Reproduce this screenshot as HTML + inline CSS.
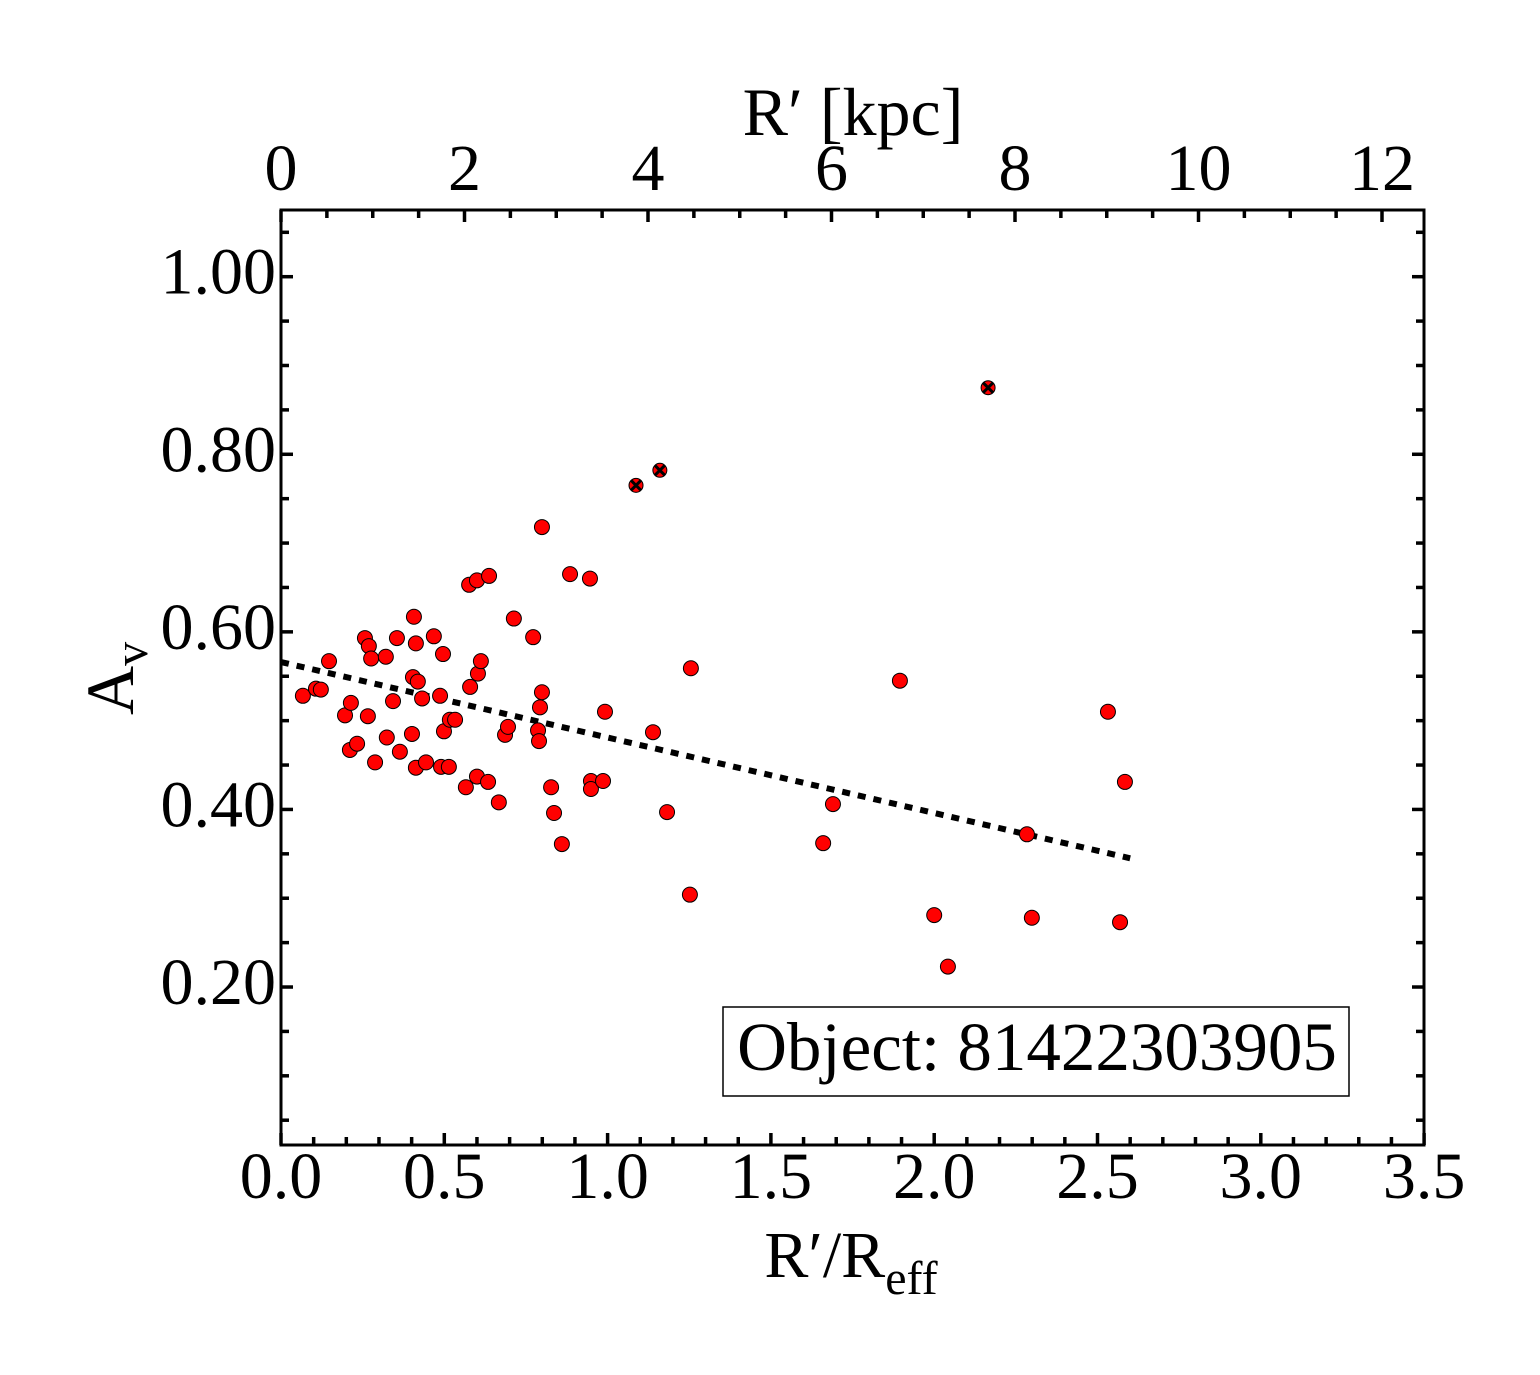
<!DOCTYPE html>
<html><head><meta charset="utf-8"><style>
html,body{margin:0;padding:0;background:#fff;}
svg{display:block;font-family:"Liberation Serif",serif;}
</style></head><body>
<svg id="chart" width="1540" height="1375" viewBox="0 0 1540 1375" xmlns="http://www.w3.org/2000/svg">
<g id="axes"></g>
<g id="fitline"></g>
<g id="points"></g>
<g id="flagged"></g>
<rect x="723" y="1007" width="626" height="89" fill="#fff" stroke="#000" stroke-width="1.5"/>
<text x="1037" y="1070" font-size="69" text-anchor="middle">Object: 81422303905</text>
<text x="853" y="135" font-size="68" text-anchor="middle">R′ [kpc]</text>
<text x="851" y="1277" font-size="66" text-anchor="middle">R′/R<tspan font-size="48" dy="17">eff</tspan></text>
<text transform="translate(133,715) rotate(-90)" font-size="68">A<tspan font-size="48" dy="14">v</tspan></text>
</svg>
<script>
const xVals=[0.067,0.107,0.122,0.147,0.196,0.214,0.211,0.233,0.257,0.269,0.276,0.266,0.288,0.321,0.343,0.324,0.355,0.364,0.407,0.413,0.404,0.419,0.401,0.413,0.432,0.444,0.468,0.496,0.487,0.499,0.490,0.514,0.517,0.533,0.576,0.600,0.637,0.579,0.603,0.612,0.566,0.600,0.634,0.667,0.686,0.695,0.713,0.772,0.787,0.790,0.793,0.799,0.799,0.827,0.836,0.860,0.885,0.946,0.949,0.949,0.986,0.992,1.139,1.182,1.255,1.252,1.660,1.690,1.895,2.000,2.042,2.284,2.299,2.532,2.584,2.569];
const yVals=[0.528,0.536,0.535,0.567,0.506,0.520,0.467,0.474,0.593,0.584,0.570,0.505,0.453,0.572,0.522,0.481,0.593,0.465,0.617,0.587,0.549,0.544,0.485,0.447,0.525,0.453,0.595,0.575,0.528,0.488,0.448,0.448,0.501,0.501,0.653,0.658,0.663,0.538,0.553,0.567,0.425,0.437,0.431,0.408,0.484,0.493,0.615,0.594,0.489,0.477,0.515,0.532,0.718,0.425,0.396,0.361,0.665,0.660,0.432,0.423,0.432,0.510,0.487,0.397,0.559,0.304,0.362,0.406,0.545,0.281,0.223,0.372,0.278,0.510,0.431,0.273];
const flagX=[1.087,1.160,2.165];
const flagY=[0.765,0.782,0.875];
const fitX=[0.0,2.60];
const fitY=[0.566,0.345];
const xTicks=[0.0,0.5,1.0,1.5,2.0,2.5,3.0,3.5];
const xTickLabels=["0.0","0.5","1.0","1.5","2.0","2.5","3.0","3.5"];
const yTicks=[0.2,0.4,0.6,0.8,1.0];
const yTickLabels=["0.20","0.40","0.60","0.80","1.00"];
const kpcTicks=[0,2,4,6,8,10,12];
const kpcTickLabels=["0","2","4","6","8","10","12"];

const L=281,R=1424,T=210,B=1145;
const NS="http://www.w3.org/2000/svg";
function sx(v){return L+v*326.6;}
function sy(v){return 1164.6-v*887.9;}
function sk(v){return L+v*91.75;}
function mk(tag,attrs,parent){const e=document.createElementNS(NS,tag);for(const k in attrs)e.setAttribute(k,attrs[k]);parent.appendChild(e);return e;}
const ax=document.getElementById('axes');
const frame=mk('rect',{x:L,y:T,width:R-L,height:B-T,fill:'none',stroke:'#000','stroke-width':3},ax);


for(let i=0;i<=35;i++){const v=i/10;const x=sx(v);const len=(i%5===0)?12:8;
 mk('line',{x1:x,y1:B,x2:x,y2:B-len,stroke:'#000','stroke-width':3.5},ax);}
for(let i=0;i<=24;i++){const v=i/2;const x=sk(v);if(x>R)break;const len=(i%4===0)?12:8;
 mk('line',{x1:x,y1:T,x2:x,y2:T+len,stroke:'#000','stroke-width':3.5},ax);}
for(let i=1;i<=21;i++){const v=i*0.05;const y=sy(v);if(y<T||y>B)continue;const len=(i%4===0)?12:8;
 mk('line',{x1:L,y1:y,x2:L+len,y2:y,stroke:'#000','stroke-width':3.5},ax);
 mk('line',{x1:R,y1:y,x2:R-len,y2:y,stroke:'#000','stroke-width':3.5},ax);}
xTicks.forEach((v,i)=>{const t=mk('text',{x:sx(v),y:1198,'font-size':66,'text-anchor':'middle'},ax);t.textContent=xTickLabels[i];
 
 });
yTicks.forEach((v,i)=>{const t=mk('text',{x:276,y:sy(v)+17,'font-size':66,'text-anchor':'end'},ax);t.textContent=yTickLabels[i];
 
 });
kpcTicks.forEach((v,i)=>{const t=mk('text',{x:sk(v),y:190,'font-size':66,'text-anchor':'middle'},ax);t.textContent=kpcTickLabels[i];
 
 });
const fl=mk('line',{x1:sx(fitX[0]),y1:sy(fitY[0]),x2:sx(fitX[1]),y2:sy(fitY[1]),stroke:'#000','stroke-width':6,'stroke-dasharray':'8 8'},document.getElementById('fitline'));


const pg=document.getElementById('points');
xVals.forEach((v,i)=>{const c=mk('circle',{cx:sx(v),cy:sy(yVals[i]),r:7.5,fill:'#f00',stroke:'#000','stroke-width':1},pg);
 
 });
const fg=document.getElementById('flagged');
flagX.forEach((v,i)=>{const x=sx(v),y=sy(flagY[i]);
 const g=mk('g',{},fg);
 
 
 mk('circle',{cx:x,cy:y,r:7,fill:'#f00',stroke:'#000','stroke-width':1},g);
 mk('path',{d:`M${x-5},${y-5}L${x+5},${y+5}M${x-5},${y+5}L${x+5},${y-5}`,stroke:'#000','stroke-width':3},g);});
</script>
</body></html>
